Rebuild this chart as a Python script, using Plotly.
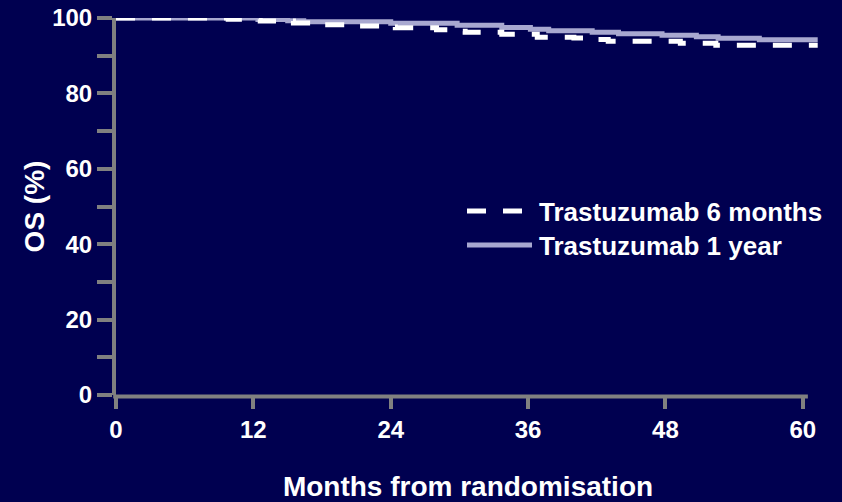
import plotly.graph_objects as go

# ---- data ----
months_1yr = [0, 12.4, 15.0, 16.4, 24.0, 29.8, 33.7, 36.2, 37.8, 41.6, 43.9, 47.7, 50.7, 52.6, 56.2, 61.3]
os_1yr = [100, 99.6, 99.3, 99.0, 98.6, 98.1, 97.5, 97.0, 96.6, 96.2, 95.8, 95.4, 95.0, 94.6, 94.2, 94.2]

months_6m = [0, 9.8, 12.6, 15.5, 18.1, 20.5, 23.4, 24.4, 28.0, 29.0, 30.5, 33.7, 36.8, 40.0, 41.4, 43.0, 49.3, 52.4, 61.3]
os_6m = [100, 99.7, 99.2, 98.7, 98.2, 97.9, 97.6, 97.4, 96.9, 96.5, 96.2, 95.7, 94.9, 94.7, 94.3, 93.8, 93.3, 92.8, 92.8]

series_names = ["Trastuzumab 6 months", "Trastuzumab 1 year"]
x_ticks = [0, 12, 24, 36, 48, 60]
y_ticks = [0, 10, 20, 30, 40, 50, 60, 70, 80, 90, 100]
y_labels = ["0", "", "20", "", "40", "", "60", "", "80", "", "100"]
x_title = "Months from randomisation"
y_title = "OS (%)"
x_axis_end = 60.44   # where the drawn x-axis line stops
x_view_end = 61.5    # plot area extends a little further so the curves can overhang

# ---- styling ----
W, H = 842, 502
L, T, B = 116, 18, 107
R = W - L - round((802.5 - L) / 60 * x_view_end)
BG = "#000050"
GRAY = "#808080"
LAV = "#A8A8D0"
FONT = "Liberation Sans, Arial, sans-serif"
DASH = "19px,17px"


def px_x(p):
    return (p - L) / (W - L - R)


def px_y(p):
    return (H - B - p) / (H - T - B)


fig = go.Figure()
fig.add_trace(go.Scatter(
    x=months_1yr, y=os_1yr, mode="lines", name=series_names[1],
    line=dict(shape="hv", color=LAV, width=5), cliponaxis=False, showlegend=False))
fig.add_trace(go.Scatter(
    x=months_6m, y=os_6m, mode="lines", name=series_names[0],
    line=dict(shape="hv", color="white", width=5, dash=DASH), cliponaxis=False, showlegend=False))

# x-axis line stopping just past 60 (as in the reference)
fig.add_shape(type="line", xref="x domain", yref="y domain",
              x0=-0.004, x1=x_axis_end / x_view_end, y0=-0.004, y1=-0.004,
              line=dict(color=GRAY, width=4), layer="below")

# manual legend (long sample lines as in the reference)
legend_rows = [(211, "white", DASH, 523, series_names[0]), (245, LAV, "solid", 532, series_names[1])]
for py, col, dash, xend, label in legend_rows:
    fig.add_shape(type="line", xref="paper", yref="paper",
                  x0=px_x(467), x1=px_x(xend), y0=px_y(py), y1=px_y(py),
                  line=dict(color=col, width=5, dash=dash))
    fig.add_annotation(xref="paper", yref="paper", x=px_x(537), y=px_y(py + 1),
                       xanchor="left", yanchor="middle", showarrow=False, text=label,
                       font=dict(family=FONT, size=26, color="white", weight="bold"))

axis_common = dict(
    showgrid=False, zeroline=False, automargin=False,
    ticks="outside", tickcolor=GRAY, tickwidth=4,
    tickfont=dict(family=FONT, size=24, color="white", weight="bold"),
)

fig.update_layout(
    width=W, height=H,
    margin=dict(l=L, r=R, t=T, b=B, pad=0),
    paper_bgcolor=BG, plot_bgcolor=BG,
    font=dict(family=FONT, color="white", weight="bold"),
    xaxis=dict(range=[0, x_view_end], tickvals=x_ticks, ticklen=13, showline=False,
               title=dict(text=x_title, standoff=36,
                          font=dict(family=FONT, size=28, color="white", weight="bold")),
               **axis_common),
    yaxis=dict(range=[0, 100], tickvals=y_ticks, ticktext=y_labels, ticklen=15,
               showline=True, linecolor=GRAY, linewidth=4,
               title=dict(text=y_title, standoff=0,
                          font=dict(family=FONT, size=28, color="white", weight="bold")),
               **axis_common),
)

fig.write_html("out.html")
